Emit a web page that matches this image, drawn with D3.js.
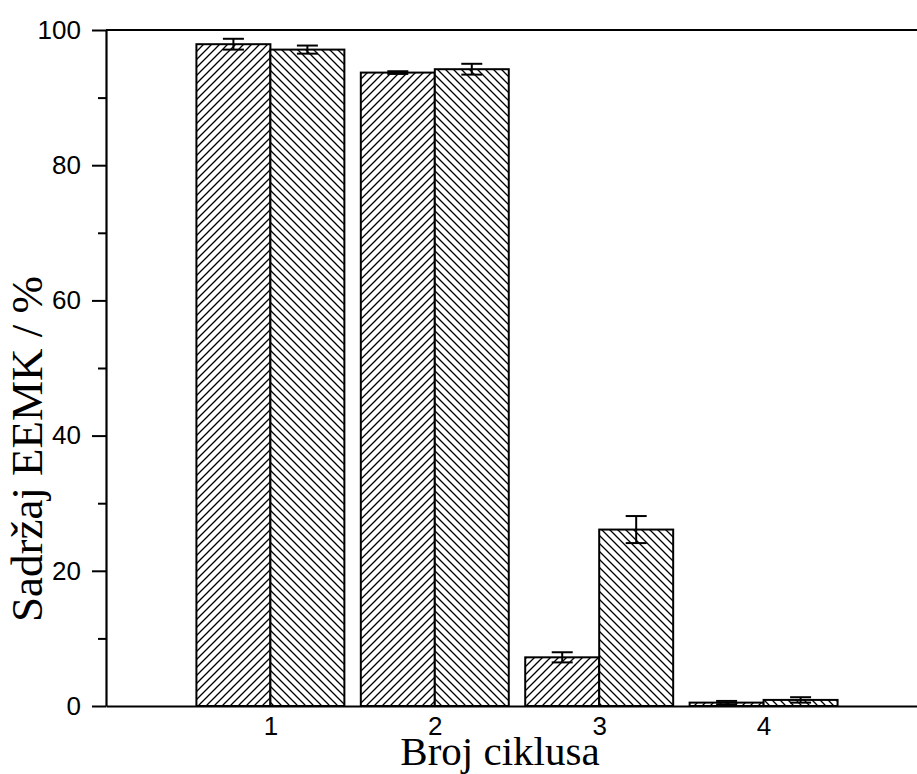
<!DOCTYPE html>
<html>
<head>
<meta charset="utf-8">
<script src="https://cdn.jsdelivr.net/npm/d3@7"></script>
<style>
  body { margin: 0; background: #fff; }
  svg { display: block; }
  .tick text { font-family: "Liberation Sans", Arial, sans-serif; font-size: 26px; fill: #000; }
  .axis-title { font-family: "Liberation Serif", "Times New Roman", serif; fill: #000; }
</style>
</head>
<body>
<div id="chart"></div>
<script>
// cycles and EEMK content (%) for the two series, with error bars
const cycles = [1, 2, 3, 4];
const seriesA = [97.9, 93.7, 7.2, 0.5];
const errA = [0.8, 0.2, 0.75, 0.25];
const seriesB = [97.1, 94.2, 26.1, 0.9];
const errB = [0.6, 0.8, 2.0, 0.4];
const yTicks = [0, 20, 40, 60, 80, 100];
const yMinor = [10, 30, 50, 70, 90];

const width = 917, height = 774;
const barW = 0.45; // in x units

const svg = d3.select('#chart')
  .append('svg')
  .attr('width', width)
  .attr('height', height);

const x = d3.scaleLinear().domain([0, 5]).range([106, 928]);
const y = d3.scaleLinear().domain([0, 100]).range([706, 30]);

// hatch patterns
const defs = svg.append('defs');
defs.append('pattern')
  .attr('id', 'hatchA')
  .attr('patternUnits', 'userSpaceOnUse')
  .attr('width', 8).attr('height', 8)
  .append('path')
  .attr('d', 'M0,8L8,0M-1,1L1,-1M7,9L9,7')
  .attr('stroke', '#000').attr('stroke-width', 1.3);
defs.append('pattern')
  .attr('id', 'hatchB')
  .attr('patternUnits', 'userSpaceOnUse')
  .attr('width', 8).attr('height', 8)
  .append('path')
  .attr('d', 'M0,0L8,8M-1,7L1,9M7,-1L9,1')
  .attr('stroke', '#000').attr('stroke-width', 1.3);

const series = [
  { values: seriesA, errs: errA, offset: -barW, fill: 'url(#hatchA)' },
  { values: seriesB, errs: errB, offset: 0, fill: 'url(#hatchB)' }
];

series.forEach((s) => {
  const rows = cycles.map((c, i) => ({ c, v: s.values[i], e: s.errs[i] }));
  const g = svg.append('g');

  g.selectAll('rect')
    .data(rows)
    .enter().append('rect')
    .attr('x', d => x(d.c + s.offset))
    .attr('y', d => y(d.v))
    .attr('width', x(barW) - x(0))
    .attr('height', d => y(0) - y(d.v))
    .attr('fill', '#fff');

  g.selectAll('rect.h')
    .data(rows)
    .enter().append('rect')
    .attr('class', 'h')
    .attr('x', d => x(d.c + s.offset))
    .attr('y', d => y(d.v))
    .attr('width', x(barW) - x(0))
    .attr('height', d => y(0) - y(d.v))
    .attr('fill', s.fill)
    .attr('stroke', '#000')
    .attr('stroke-width', 2);

  // error bars
  const eb = g.selectAll('g.err')
    .data(rows)
    .enter().append('g')
    .attr('class', 'err')
    .attr('stroke', '#000')
    .attr('stroke-width', 2);
  const cx = d => x(d.c + s.offset + barW / 2);
  eb.append('line')
    .attr('x1', cx).attr('x2', cx)
    .attr('y1', d => y(d.v + d.e)).attr('y2', d => y(d.v - d.e));
  eb.append('line')
    .attr('x1', d => cx(d) - 10.5).attr('x2', d => cx(d) + 10.5)
    .attr('y1', d => y(d.v + d.e)).attr('y2', d => y(d.v + d.e));
  eb.append('line')
    .attr('x1', d => cx(d) - 10.5).attr('x2', d => cx(d) + 10.5)
    .attr('y1', d => y(d.v - d.e)).attr('y2', d => y(d.v - d.e));
});

// top frame line
svg.append('line')
  .attr('x1', x(0)).attr('x2', x(5))
  .attr('y1', y(100)).attr('y2', y(100))
  .attr('stroke', '#000').attr('stroke-width', 2.2);

// y axis: minor then major ticks
svg.append('g')
  .attr('transform', `translate(${x(0)},0)`)
  .call(d3.axisLeft(y).tickValues(yMinor).tickSize(8).tickFormat(''))
  .call(g => g.select('.domain').remove())
  .selectAll('line').attr('stroke-width', 2);

svg.append('g')
  .attr('transform', `translate(${x(0)},0)`)
  .call(d3.axisLeft(y).tickValues(yTicks).tickSize(14).tickSizeOuter(0).tickPadding(11))
  .call(g => g.select('.domain').attr('stroke-width', 2.2))
  .selectAll('line').attr('stroke-width', 2);

// x axis
svg.append('g')
  .attr('transform', `translate(0,${y(0)})`)
  .call(d3.axisBottom(x).tickValues(cycles).tickFormat(d3.format('d'))
    .tickSize(0).tickSizeOuter(0).tickPadding(11))
  .call(g => g.select('.domain').attr('stroke-width', 2.2));

svg.append('text')
  .attr('class', 'axis-title')
  .attr('x', 500).attr('y', 765)
  .attr('text-anchor', 'middle')
  .style('font-size', '41px')
  .text('Broj ciklusa');

svg.append('text')
  .attr('class', 'axis-title')
  .attr('transform', 'translate(42,449) rotate(-90)')
  .attr('text-anchor', 'middle')
  .style('font-size', '45px')
  .text('Sadržaj EEMK / %');
</script>
</body>
</html>
